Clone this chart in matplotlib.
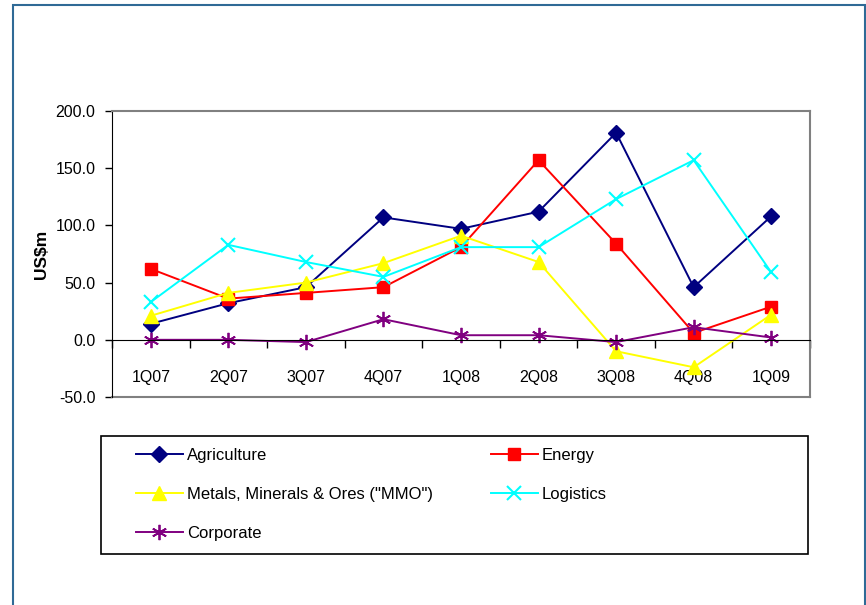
import matplotlib
matplotlib.use('Agg')
import matplotlib.pyplot as plt
from matplotlib.patches import Rectangle

quarters = ['1Q07', '2Q07', '3Q07', '4Q07', '1Q08', '2Q08', '3Q08', '4Q08', '1Q09']
agriculture = [14, 32, 46, 107, 97, 112, 181, 46, 108]
energy = [62, 36, 41, 46, 81, 157, 84, 6, 29]
mmo = [21, 41, 50, 67, 91, 68, -10, -24, 22]
logistics = [33, 83, 68, 55, 81, 81, 123, 157, 59]
corporate = [0, 0, -2, 18, 4, 4, -2, 11, 2]
y_ticks = [-50, 0, 50, 100, 150, 200]

plt.rcParams['font.family'] = ['Liberation Sans', 'DejaVu Sans']

W, H = 866, 605
fig = plt.figure(figsize=(W / 100, H / 100), dpi=100)
ax = fig.add_axes([112 / W, 1 - 397 / H, (810 - 112) / W, (397 - 111) / H])
# move the category axis to zero first (this resets the ticks)
ax.spines['bottom'].set_position(('data', 0))

x = list(range(len(quarters)))
lw = 1.4
ax.plot(x, agriculture, color='#000080', lw=lw, marker='D', ms=8.5, label='Agriculture')
ax.plot(x, energy, color='#FF0000', lw=lw, marker='s', ms=8.5, label='Energy')
ax.plot(x, mmo, color='#FFFF00', lw=lw, marker='^', ms=10, label='Metals, Minerals & Ores ("MMO")')
ax.plot(x, logistics, color='#00FFFF', lw=lw, marker='x', ms=10, mew=1.5, label='Logistics')
ax.plot(x, corporate, color='#800080', lw=lw, marker=(6, 2, 0), ms=11, mew=1.3, label='Corporate')

ax.set_xlim(-0.5, len(quarters) - 0.5)
ax.set_ylim(-50, 200)
ax.set_yticks(y_ticks)
ax.set_yticklabels([f'{v:.1f}' for v in y_ticks])
ax.tick_params(axis='y', direction='out', length=5, width=1, pad=7, labelsize=11.5)

ax.set_xticks(x)
ax.set_xticklabels(quarters)
ax.set_xticks([i - 0.5 for i in range(len(quarters) + 1)], minor=True)
ax.tick_params(axis='x', which='major', length=0, pad=22, labelsize=11.5)
ax.tick_params(axis='x', which='minor', direction='out', length=6, width=1)

ax.spines['bottom'].set_color('black')
ax.spines['left'].set_color('black')
for s in ['top', 'right']:
    ax.spines[s].set_color('#808080')
    ax.spines[s].set_linewidth(1.5)
ax.axhline(-50, color='#808080', lw=1.5, clip_on=False)

ax.set_ylabel('US$m', fontsize=12.5, fontweight='bold')
ax.yaxis.set_label_coords(-0.09, 0.5)

# legend box and two columns
fig.patches.append(Rectangle((101 / W, 1 - 554 / H), (808 - 101) / W, (554 - 436) / H,
                             transform=fig.transFigure, fill=False, ec='black', lw=1.2))
h, l = ax.get_legend_handles_labels()
kw = dict(frameon=False, fontsize=12, handlelength=2.8, handletextpad=0.25,
          labelspacing=1.45, borderpad=0, borderaxespad=0, loc='upper left')
leg1 = fig.legend([h[0], h[2], h[4]], [l[0], l[2], l[4]],
                  bbox_to_anchor=(136 / W, 1 - 448 / H), **kw)
leg2 = fig.legend([h[1], h[3]], [l[1], l[3]],
                  bbox_to_anchor=(491 / W, 1 - 448 / H), **kw)

# outer frame
fig.patches.append(Rectangle((13 / W, -0.05), (865 - 13) / W, 1.05 - 5.5 / H,
                             transform=fig.transFigure, fill=False, ec='#2f6a96', lw=1.5))

fig.savefig('out.png', dpi=100)
